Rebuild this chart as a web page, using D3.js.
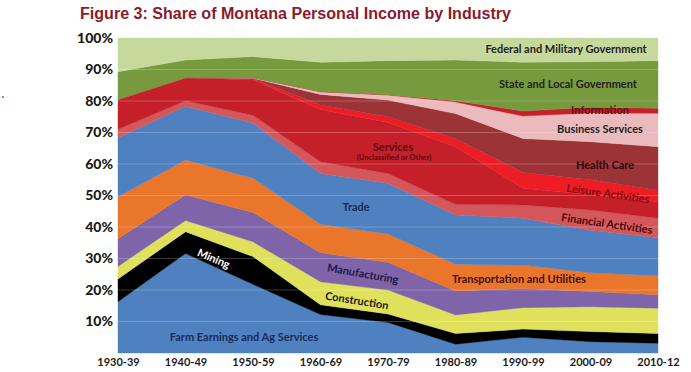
<!DOCTYPE html>
<html><head><meta charset="utf-8">
<script src="https://cdn.jsdelivr.net/npm/d3@7"></script>
<style>
html,body{margin:0;padding:0;background:#fff;}
svg{display:block;}
</style></head>
<body>
<svg id="chart" width="691" height="372"></svg>
<script>
const periods = ["1930-39","1940-49","1950-59","1960-69","1970-79","1980-89","1990-99","2000-09","2010-12"];
const yTicks = [10,20,30,40,50,60,70,80,90,100];

// share of personal income (%) per industry, bottom to top
const farm         = [16.3,31.6,21.8,12.2, 9.7, 2.8, 5.0, 3.6, 3.1];
const mining       = [ 7.2, 6.9, 8.8, 3.1, 2.7, 3.4, 2.6, 3.2, 3.1];
const construction = [ 4.0, 3.6, 4.7, 7.3, 7.6, 5.9, 6.8, 7.9, 8.0];
const manufacturing= [ 8.8, 8.1, 9.3, 9.2, 8.8, 7.6, 6.1, 4.8, 4.3];
const transport    = [13.3,11.1,10.9, 9.1, 9.0, 8.5, 7.4, 6.0, 6.0];
const trade        = [18.7,17.0,17.5,16.1,16.1,15.6,14.9,13.5,12.1];
const financial    = [ 2.7, 1.8, 2.5, 3.7, 3.1, 3.4, 4.2, 6.4, 6.2];
const services     = [ 9.5, 7.3,11.2,16.6,16.2,18.3, 5.3, 4.8, 5.2];
const leisure      = [ 0.0, 0.0, 0.3, 1.4, 1.8, 2.5, 5.0, 4.8, 3.7];
const health       = [ 0.0, 0.0, 0.2, 3.4, 5.3, 8.0,10.8,12.1,13.8];
const business     = [ 0.0, 0.0, 0.2, 0.8, 1.6, 3.7, 7.1, 9.1,10.6];
const information  = [ 0.0, 0.0, 0.0, 0.1, 0.1, 0.4, 1.6, 1.8, 1.6];
const stateLocal   = [ 8.8, 5.6, 6.7, 9.3,10.8,12.9,15.5,14.5,15.1];
const federal      = [10.7, 7.0, 5.9, 7.7, 7.2, 7.0, 7.7, 7.5, 7.2];

const seriesNames = ["farm","mining","construction","manufacturing","transport","trade","financial","services","leisure","health","business","information","stateLocal","federal"];
const seriesValues = [farm,mining,construction,manufacturing,transport,trade,financial,services,leisure,health,business,information,stateLocal,federal];
const colors = {
  farm:"#4f80c0", mining:"#000000", construction:"#dfe15c", manufacturing:"#7f64a9",
  transport:"#e9762b", trade:"#4f80c0", financial:"#d4575b", services:"#c51f2a",
  leisure:"#ee1c25", health:"#9c3437", business:"#ebbabc", information:"#c8202a",
  stateLocal:"#779a3e", federal:"#c5d99d"
};

const rows = periods.map((p,i)=>{
  const r = {period:p};
  seriesNames.forEach((n,k)=>{ r[n] = seriesValues[k][i]; });
  return r;
});

const svg = d3.select("#chart");
const x = d3.scalePoint().domain(periods).range([118,658]);
const y = d3.scaleLinear().domain([0,100]).range([353,38]);

const stack = d3.stack().keys(seriesNames);
const layers = stack(rows);
const area = d3.area()
  .x(d=>x(d.data.period))
  .y0(d=>y(d[0]))
  .y1(d=>y(d[1]));

svg.append("g").selectAll("path").data(layers).join("path")
  .attr("d", area)
  .attr("fill", d=>colors[d.key])
  .attr("stroke", d=>colors[d.key])
  .attr("stroke-width", 0.4);

// faint gridlines
svg.append("g").selectAll("line").data(yTicks.filter(t=>t<100)).join("line")
  .attr("x1",118).attr("x2",658)
  .attr("y1",d=>y(d)).attr("y2",d=>y(d))
  .attr("stroke","#ffffff").attr("stroke-opacity",0.22).attr("stroke-width",1);

// y axis labels
const yAxis = d3.axisLeft(y).tickValues(yTicks).tickFormat(d=>d+"%").tickSize(0).tickPadding(5);
const gy = svg.append("g").attr("transform","translate(118,0)").call(yAxis);
gy.select(".domain").remove();
gy.selectAll("text").attr("font-family","Lato, 'Open Sans', sans-serif")
  .attr("font-weight","900").attr("font-size","14px").attr("fill","#1a1a1a");

// x axis labels
const xAxis = d3.axisBottom(x).tickSize(0).tickPadding(5);
const gx = svg.append("g").attr("transform","translate(0,353)").call(xAxis);
gx.select(".domain").remove();
gx.selectAll("text").attr("font-family","Lato, 'Open Sans', sans-serif")
  .attr("font-weight","700").attr("font-size","11px").attr("fill","#1a1a1a");

// title
svg.append("text").attr("x",80).attr("y",19)
  .attr("font-family","'Liberation Sans', Arial, sans-serif").attr("font-weight","700")
  .attr("font-size","16px").attr("fill","#8a1a2c")
  .attr("textLength",431).attr("lengthAdjust","spacingAndGlyphs")
  .text("Figure 3: Share of Montana Personal Income by Industry");

// small red mark at left
svg.append("circle").attr("cx",3).attr("cy",97).attr("r",0.9).attr("fill","#c0303a");

const labels = [
  {t:"Federal and Military Government", x:566, y:48, r:0, c:"#222222", s:11},
  {t:"State and Local Government", x:568, y:83, r:0, c:"#222222", s:11},
  {t:"Information", x:600, y:109, r:0, c:"#5a1015", s:11},
  {t:"Business Services", x:600, y:128, r:0, c:"#222222", s:11},
  {t:"Health Care", x:605, y:164, r:0, c:"#2a0a0a", s:11},
  {t:"Leisure Activities", x:608, y:193, r:8, c:"#7a0d12", s:11},
  {t:"Financial Activities", x:607, y:223, r:8, c:"#4a0a0c", s:11},
  {t:"Services", x:393, y:146, r:0, c:"#5a0a0e", s:11},
  {t:"(Unclassified or Other)", x:394, y:157, r:0, c:"#5a0a0e", s:7.5},
  {t:"Trade", x:356, y:206, r:0, c:"#1c2a58", s:11},
  {t:"Manufacturing", x:363, y:273, r:10, c:"#1f1745", s:11},
  {t:"Construction", x:357, y:300, r:9, c:"#1a1a1a", s:11},
  {t:"Transportation and Utilities", x:519, y:278, r:0, c:"#4a0c0c", s:11},
  {t:"Mining", x:214, y:258, r:23, c:"#ffffff", s:11},
  {t:"Farm Earnings and Ag Services", x:244, y:336, r:0, c:"#1c2a58", s:11}
];
svg.append("g").selectAll("text").data(labels).join("text")
  .attr("transform",d=>`translate(${d.x},${d.y}) rotate(${d.r})`)
  .attr("text-anchor","middle").attr("dominant-baseline","central")
  .attr("font-family","Lato, 'Open Sans', sans-serif").attr("font-weight","700")
  .attr("font-size",d=>d.s+"px").attr("fill",d=>d.c)
  .text(d=>d.t);
</script>
</body></html>
